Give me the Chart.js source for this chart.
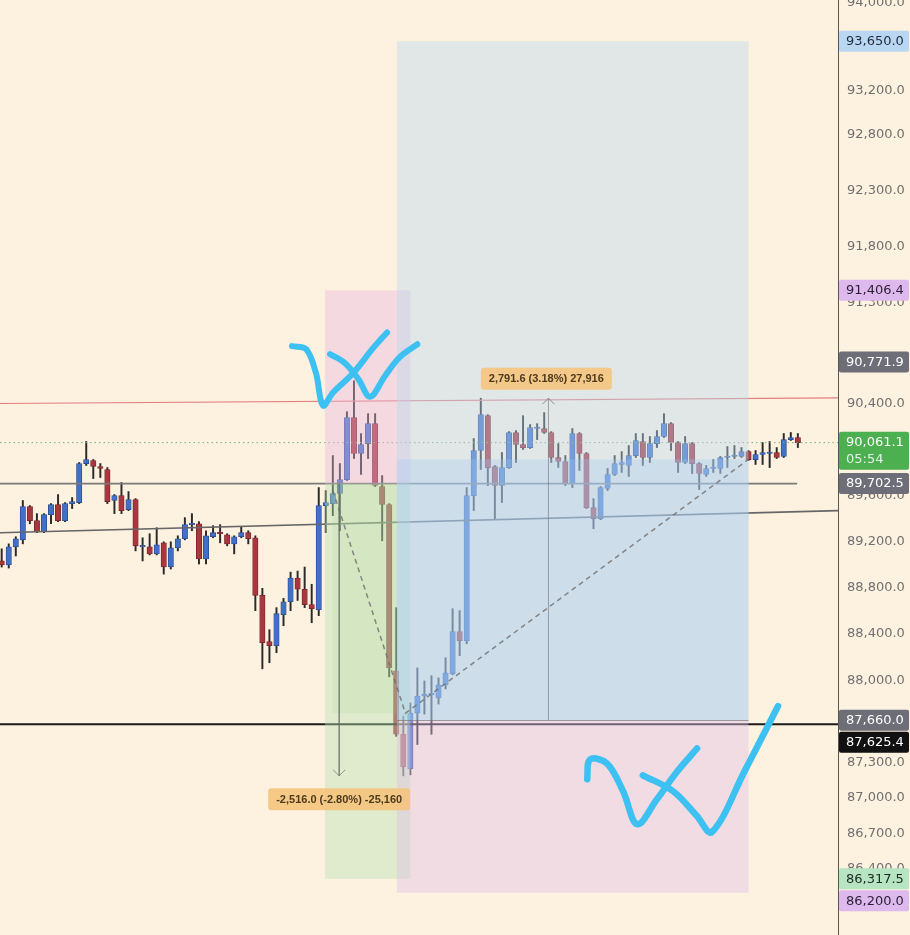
<!DOCTYPE html>
<html>
<head>
<meta charset="utf-8">
<script src="https://cdn.jsdelivr.net/npm/chart.js@4.4.1/dist/chart.umd.min.js"></script>
<style>
  html, body { margin: 0; padding: 0; background: #FDF1DF; }
  #wrap { width: 910px; height: 935px; }
</style>
</head>
<body>
<div id="wrap"><canvas id="priceChart" width="910" height="935"></canvas></div>
<script>
// OHLC, one entry per candle (left to right)
const opens = [89030, 88995, 89152, 89213, 89502, 89380, 89283, 89432, 89520, 89380,
  89528, 89537, 89878, 89905, 89852, 89826, 89555, 89598, 89476, 89563,
  89152, 89152, 89091, 89187, 88977, 89143, 89222, 89345, 89353, 89047,
  89240, 89275, 89257, 89178, 89240, 89275, 89231, 88732, 88333, 88298,
  88565, 88677, 88881, 88785, 88652, 88608, 89511, 89528, 89616, 89738,
  90281, 89966, 90053, 90228, 89677, 89520, 88082, 87540, 87247, 87721,
  87867, 87876, 87850, 87962, 88057, 88419, 88341, 89598, 89992, 90298,
  89852, 89686, 89843, 90150, 90045, 90018, 90185, 90185, 90150, 89931,
  89896, 89703, 90141, 89966, 89493, 89397, 89660, 89782, 89870, 89861,
  89948, 90071, 89931, 90053, 90115, 90228, 90062, 89887, 90053, 89878,
  89782, 89835, 89835, 89931, 89940, 89940, 89983, 89913, 89957, 89966,
  89975, 89940, 90088, 90106];
const highs = [89135, 89178, 89240, 89555, 89511, 89441, 89441, 89528, 89607, 89537,
  89581, 89887, 90071, 89913, 89878, 89843, 89607, 89712, 89633, 89572,
  89231, 89266, 89318, 89196, 89196, 89248, 89406, 89441, 89371, 89292,
  89336, 89345, 89266, 89248, 89327, 89292, 89248, 88793, 88436, 88626,
  88706, 88933, 88942, 88977, 88828, 89668, 89642, 89948, 89878, 90333,
  90605, 90141, 90316, 90316, 89773, 89528, 88626, 87695, 87807, 88108,
  87996, 88040, 88022, 88195, 88617, 88600, 89668, 90097, 90451.6, 90307,
  89861, 89975, 90158, 90167, 90298, 90220, 90228, 90325, 90158, 90053,
  89948, 90185, 90150, 89975, 89572, 89677, 89835, 89948, 89983, 90036,
  90141, 90141, 90115, 90167, 90316, 90237, 90071, 90115, 90062, 89887,
  89861, 89913, 89940, 90027, 90036, 90018, 89992, 89992, 90062, 90071,
  90018, 90141, 90150, 90141];
const lows = [88977, 88968, 89073, 89178, 89353, 89275, 89275, 89353, 89371, 89371,
  89485, 89528, 89861, 89747, 89756, 89528, 89441, 89441, 89467, 89117,
  89030, 89082, 89082, 88916, 88960, 89117, 89213, 89292, 89003, 89003,
  89231, 89187, 89161, 89091, 89231, 89178, 88600, 88100, 88152, 88238,
  88470, 88600, 88688, 88626, 88496, 88557, 89275, 89423, 89292, 89730,
  89922, 89782, 89922, 89677, 89205, 88031, 87522, 87186.5, 87195, 87453,
  87712, 87540, 87798, 87927, 88048, 88212, 88315, 89467, 89826, 89686,
  89397, 89537, 89835, 89887, 90001, 90010, 90088, 90141, 89887, 89843,
  89686, 89668, 89817, 89485, 89310, 89388, 89642, 89773, 89800, 89765,
  89931, 89861, 89887, 90018, 90106, 89992, 89800, 89878, 89791, 89651,
  89765, 89800, 89791, 89843, 89922, 89931, 89905, 89870, 89870, 89843,
  89922, 89931, 90080, 90018];
const closes = [88995, 89152, 89222, 89502, 89380, 89283, 89432, 89520, 89380, 89528,
  89546, 89878, 89913, 89852, 89835, 89546, 89598, 89467, 89563, 89161,
  89161, 89091, 89170, 88977, 89143, 89222, 89345, 89353, 89047, 89248,
  89275, 89266, 89178, 89240, 89275, 89222, 88732, 88324, 88298, 88574,
  88677, 88881, 88785, 88652, 88617, 89511, 89537, 89616, 89738, 90281,
  89966, 90045, 90228, 89686, 89520, 88108, 87540, 87264, 87721, 87867,
  87884, 87884, 87962, 88065, 88419, 88341, 89598, 89992, 90307, 89843,
  89686, 89843, 90150, 90045, 90018, 90193, 90193, 90150, 89931, 89896,
  89703, 90141, 89966, 89493, 89397, 89668, 89782, 89878, 89887, 89948,
  90080, 89931, 90053, 90115, 90228, 90062, 89887, 90053, 89878, 89791,
  89835, 89843, 89931, 89940, 89948, 89983, 89913, 89957, 89975, 89975,
  89931, 90088, 90106, 90061.1];

// visible range
const xMin = -0.24, xMax = 118.7;
const yMin = 85846, yMax = 94027;
const tickValues = [94000, 93200, 92800, 92300, 91800, 91300, 90400, 89600,
  89200, 88800, 88400, 88000, 87300, 87000, 86700, 86400];

// drawn levels
const lastPrice = 90061.1;
const redTrend = [90405, 90455];
const greyTrend = [89275, 89467];
const greyLevel = 89702.5;
const greyLevelEnd = 112.9;
const blackLevel = 87625.4;

// short position tool
const shortX = [45.9, 58.0];
const shortEntry = 89702.5, shortStop = 91406.4, shortTarget = 86317.5;
const shortFillX = [47.0, 56.1];
const shortFillLow = 87720;
// long position tool
const longX = [56.1, 106.0];
const longEntry = 87660.0, longStop = 86200.0, longTarget = 93650.0;
const longFillTop = 89915;

const tradePath = [{x: 47.0, y: 89642}, {x: 57.3, y: 87720}, {x: 106.0, y: 89915}];
const shortMeasure = {x: 47.9, from: 89702.5, to: 87186.5, text: '-2,516.0 (-2.80%) -25,160', lx: 47.9, ly: 86988};
const longMeasure = {x: 77.6, from: 87660, to: 90451.6, text: '2,791.6 (3.18%) 27,916', lx: 77.3, ly: 90622};

// hand drawn marks
const mark1a = [{x: 41.2, y: 90911}, {x: 43.2, y: 90885}, {x: 44.6, y: 90674}, {x: 45.6, y: 90386},
  {x: 47.0, y: 90500}, {x: 49.9, y: 90674}, {x: 52.7, y: 90893}, {x: 54.7, y: 91033}];
const mark1b = [{x: 46.6, y: 90841}, {x: 48.7, y: 90762}, {x: 50.6, y: 90622}, {x: 52.3, y: 90465},
  {x: 54.4, y: 90648}, {x: 56.5, y: 90814}, {x: 59.0, y: 90928}];
const mark2a = [{x: 83.1, y: 87157}, {x: 83.5, y: 87326}, {x: 85.9, y: 87292}, {x: 88.2, y: 87056},
  {x: 90.2, y: 86777}, {x: 93.0, y: 86988}, {x: 95.9, y: 87225}, {x: 98.7, y: 87419}];
const mark2b = [{x: 91.0, y: 87191}, {x: 95.3, y: 87056}, {x: 98.7, y: 86845}, {x: 100.8, y: 86710},
  {x: 105.5, y: 87233}, {x: 110.2, y: 87781}];

// price tags on the axis
const tags = [
  {v: 93650.0, bg: '#B9D7F2', fg: '#1f2a3a'},
  {v: 91406.4, bg: '#DDB9EE', fg: '#2a1f33'},
  {v: 90771.9, bg: '#6D6E78', fg: '#ffffff'},
  {v: 90061.1, bg: '#4CAF50', fg: '#ffffff', sub: '05:54'},
  {v: 89702.5, bg: '#6D6E78', fg: '#ffffff'},
  {v: 87660.0, bg: '#6D6E78', fg: '#ffffff'},
  {v: 87625.4, bg: '#111111', fg: '#ffffff'},
  {v: 86317.5, bg: '#B7E4C2', fg: '#1c2a1f'},
  {v: 86200.0, bg: '#DDB9EE', fg: '#2a1f33'}
];

const BLUE = '#4270C8', BLUE_EDGE = '#2B4D90';
const RED = '#A8383F', RED_EDGE = '#7A222B';

const fmt = v => v.toLocaleString('en-US', {minimumFractionDigits: 1, maximumFractionDigits: 1});

const isUp = opens.map((o, i) => closes[i] >= o);
const wickData = opens.map((o, i) => ({x: i, y: [lows[i], highs[i]]}));
const bodyData = opens.map((o, i) => ({x: i, y: [o, closes[i]]}));

function fillZone(chart, x0, x1, v0, v1, color) {
  const xs = chart.scales.x, ys = chart.scales.y, ctx = chart.ctx;
  const l = xs.getPixelForValue(x0), r = xs.getPixelForValue(x1);
  const t = ys.getPixelForValue(Math.max(v0, v1)), b = ys.getPixelForValue(Math.min(v0, v1));
  ctx.fillStyle = color;
  ctx.fillRect(l, t, r - l, b - t);
}

function drawBoxes(chart) {
  const ctx = chart.ctx, a = chart.chartArea;
  ctx.save();
  ctx.beginPath();
  ctx.rect(a.left, a.top, a.right - a.left, a.bottom - a.top);
  ctx.clip();
  // short
  fillZone(chart, shortX[0], shortX[1], shortEntry, shortStop, 'rgba(230,185,226,0.4)');
  fillZone(chart, shortX[0], shortX[1], shortTarget, shortEntry, 'rgba(182,226,178,0.42)');
  fillZone(chart, shortFillX[0], shortFillX[1], shortFillLow, shortEntry, 'rgba(160,205,140,0.16)');
  // long
  fillZone(chart, longX[0], longX[1], longEntry, longTarget, 'rgba(185,218,240,0.42)');
  fillZone(chart, longX[0], longX[1], longEntry, longFillTop, 'rgba(160,200,245,0.3)');
  fillZone(chart, longX[0], longX[1], longStop, longEntry, 'rgba(225,190,235,0.42)');
  // entry line of the long tool
  const xs = chart.scales.x, ys = chart.scales.y;
  const ey = Math.round(ys.getPixelForValue(longEntry)) + 0.5;
  ctx.strokeStyle = 'rgba(120,120,130,0.7)';
  ctx.lineWidth = 1;
  ctx.beginPath();
  ctx.moveTo(xs.getPixelForValue(longX[0]), ey);
  ctx.lineTo(xs.getPixelForValue(longX[1]), ey);
  ctx.stroke();
  ctx.restore();
}

function arrowHead(ctx, x, y, dir) {
  ctx.beginPath();
  ctx.moveTo(x - 6, y - 6 * dir);
  ctx.lineTo(x, y);
  ctx.lineTo(x + 6, y - 6 * dir);
  ctx.stroke();
}

function measureLabel(chart, m) {
  const ctx = chart.ctx;
  const cx = chart.scales.x.getPixelForValue(m.lx);
  const cy = chart.scales.y.getPixelForValue(m.ly);
  ctx.font = '600 11px "Liberation Sans", Arial, sans-serif';
  const w = ctx.measureText(m.text).width + 16, h = 22;
  ctx.fillStyle = 'rgba(245,196,125,0.9)';
  ctx.beginPath();
  ctx.roundRect(cx - w / 2, cy - h / 2, w, h, 3);
  ctx.fill();
  ctx.fillStyle = '#4d3a1e';
  ctx.textAlign = 'center';
  ctx.textBaseline = 'middle';
  ctx.fillText(m.text, cx, cy + 0.5);
}

const overlayPlugin = {
  id: 'overlay',
  beforeDraw(chart) {
    const ctx = chart.ctx;
    ctx.save();
    ctx.fillStyle = '#FDF1DF';
    ctx.fillRect(0, 0, chart.width, chart.height);
    ctx.restore();
  },
  beforeDatasetDraw(chart, args) {
    if (chart.data.datasets[args.index].boxesUnder) drawBoxes(chart);
  },
  afterDatasetsDraw(chart) {
    const ctx = chart.ctx, xs = chart.scales.x, ys = chart.scales.y;
    ctx.save();
    ctx.strokeStyle = 'rgba(110,110,110,0.7)';
    ctx.lineWidth = 1;
    arrowHead(ctx, xs.getPixelForValue(shortMeasure.x), ys.getPixelForValue(shortMeasure.to), 1);
    arrowHead(ctx, xs.getPixelForValue(longMeasure.x), ys.getPixelForValue(longMeasure.to), -1);
    measureLabel(chart, shortMeasure);
    measureLabel(chart, longMeasure);
    ctx.restore();
  },
  afterDraw(chart) {
    const ctx = chart.ctx, ys = chart.scales.y, left = chart.chartArea.right + 1;
    const boxes = tags.map(t => {
      const y = ys.getPixelForValue(t.v);
      return t.sub ? {t, top: y - 11, bottom: y + 27} : {t, top: y - 10.5, bottom: y + 10.5};
    }).sort((a, b) => a.top - b.top);
    for (let i = 1; i < boxes.length; i++) {
      const prev = boxes[i - 1], cur = boxes[i];
      if (cur.top < prev.bottom + 1) {
        const h = cur.bottom - cur.top;
        cur.top = prev.bottom + 1;
        cur.bottom = cur.top + h;
      }
    }
    ctx.save();
    ctx.font = '13px "DejaVu Sans", sans-serif';
    ctx.textBaseline = 'middle';
    ctx.textAlign = 'left';
    boxes.forEach(b => {
      ctx.fillStyle = b.t.bg;
      ctx.beginPath();
      ctx.roundRect(left, b.top, 70, b.bottom - b.top, 2);
      ctx.fill();
      ctx.fillStyle = b.t.fg;
      if (b.t.sub) {
        ctx.fillText(fmt(b.t.v), left + 7, b.top + 11);
        ctx.fillStyle = 'rgba(255,255,255,0.85)';
        ctx.fillText(b.t.sub, left + 7, b.top + 28);
      } else {
        ctx.fillText(fmt(b.t.v), left + 7, (b.top + b.bottom) / 2 + 0.5);
      }
    });
    ctx.restore();
  }
};

const flat = (extra) => Object.assign({type: 'line', pointRadius: 0, pointHoverRadius: 0, fill: false, tension: 0}, extra);

new Chart(document.getElementById('priceChart'), {
  type: 'bar',
  data: {
    datasets: [
      {
        data: wickData,
        backgroundColor: '#2a2a2a',
        barThickness: 1.3,
        grouped: false,
        order: 10
      },
      {
        data: bodyData,
        backgroundColor: isUp.map(u => u ? BLUE : RED),
        borderColor: isUp.map(u => u ? BLUE_EDGE : RED_EDGE),
        borderWidth: 0.8,
        borderSkipped: false,
        barThickness: 5.4,
        minBarLength: 1.5,
        grouped: false,
        order: 9
      },
      flat({data: [{x: xMin, y: redTrend[0]}, {x: xMax, y: redTrend[1]}], borderColor: '#E27F7F', borderWidth: 1.2, order: 8}),
      flat({data: [{x: xMin, y: lastPrice}, {x: xMax, y: lastPrice}], borderColor: '#78AE78', borderWidth: 1, borderDash: [1.5, 3], order: 8}),
      flat({data: [{x: xMin, y: greyLevel}, {x: greyLevelEnd, y: greyLevel}], borderColor: '#7a7a7a', borderWidth: 1.6, order: 8}),
      flat({data: [{x: xMin, y: greyTrend[0]}, {x: xMax, y: greyTrend[1]}], borderColor: '#666666', borderWidth: 1.6, order: 8}),
      flat({data: [{x: xMin, y: blackLevel}, {x: xMax, y: blackLevel}], borderColor: '#1c1c1c', borderWidth: 2, order: 8}),
      flat({data: tradePath, borderColor: 'rgba(110,110,110,0.8)', borderWidth: 1.5, borderDash: [5, 4], order: 4, boxesUnder: true}),
      flat({data: [{x: shortMeasure.x, y: shortMeasure.from}, {x: shortMeasure.x, y: shortMeasure.to}], borderColor: 'rgba(110,110,110,0.6)', borderWidth: 1, order: 3}),
      flat({data: [{x: longMeasure.x, y: longMeasure.from}, {x: longMeasure.x, y: longMeasure.to}], borderColor: 'rgba(110,110,110,0.6)', borderWidth: 1, order: 3}),
      flat({data: mark1a, borderColor: '#3DC0F2', borderWidth: 6, tension: 0.35, borderCapStyle: 'round', borderJoinStyle: 'round', order: 1}),
      flat({data: mark1b, borderColor: '#3DC0F2', borderWidth: 6, tension: 0.35, borderCapStyle: 'round', borderJoinStyle: 'round', order: 1}),
      flat({data: mark2a, borderColor: '#3DC0F2', borderWidth: 6.5, tension: 0.35, borderCapStyle: 'round', borderJoinStyle: 'round', order: 1}),
      flat({data: mark2b, borderColor: '#3DC0F2', borderWidth: 6.5, tension: 0.35, borderCapStyle: 'round', borderJoinStyle: 'round', order: 1})
    ]
  },
  options: {
    responsive: false,
    devicePixelRatio: 1,
    animation: false,
    layout: {padding: 0},
    plugins: {legend: {display: false}, tooltip: {enabled: false}, title: {display: false}},
    events: [],
    scales: {
      x: {
        type: 'linear',
        min: xMin,
        max: xMax,
        offset: false,
        bounds: 'data',
        display: false,
        grid: {display: false, offset: false}
      },
      y: {
        type: 'logarithmic',
        position: 'right',
        min: yMin,
        max: yMax,
        bounds: 'data',
        beginAtZero: false,
        grid: {display: false, drawTicks: false},
        border: {display: true, color: '#555555', width: 1},
        afterBuildTicks: scale => { scale.ticks = tickValues.map(v => ({value: v})); },
        afterFit: scale => {
          scale.width = 72;
          scale.paddingTop = 0;
          scale.paddingBottom = 0;
        },
        ticks: {
          autoSkip: false,
          padding: 9,
          color: '#707070',
          font: {family: '"DejaVu Sans", sans-serif', size: 13},
          callback: v => fmt(v)
        }
      }
    }
  },
  plugins: [overlayPlugin]
});
</script>
</body>
</html>
